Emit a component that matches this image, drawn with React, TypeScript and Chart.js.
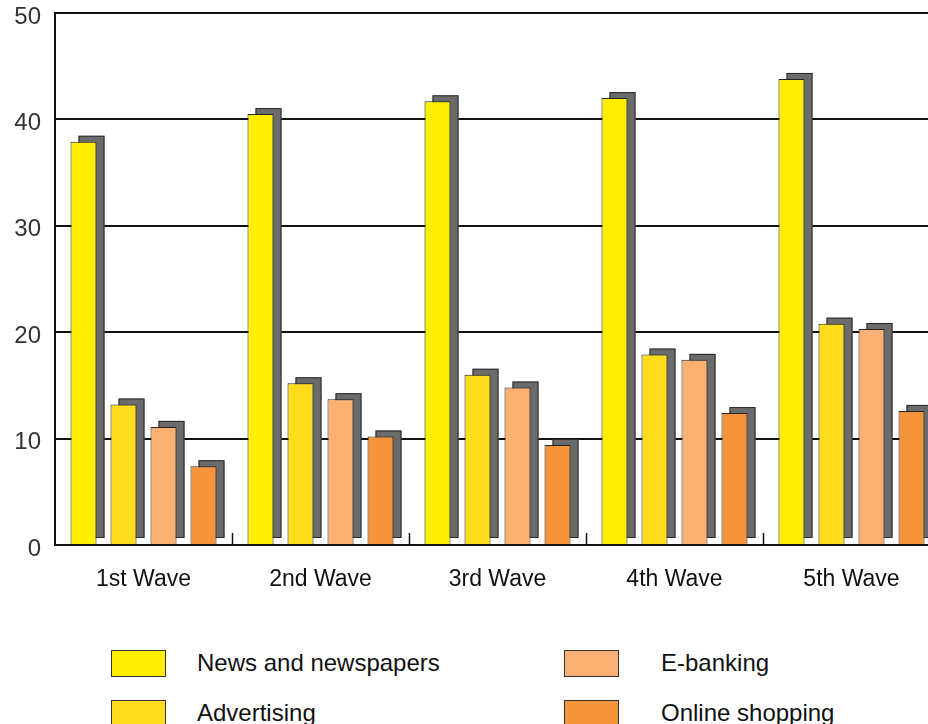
import React, { useEffect, useRef } from "react";
import { Chart, registerables } from "chart.js";

Chart.register(...registerables);

const categories = ["1st Wave", "2nd Wave", "3rd Wave", "4th Wave", "5th Wave"];
const seriesNames = ["News and newspapers", "Advertising", "E-banking", "Online shopping"];
const newsValues = [37.9, 40.5, 41.7, 42.0, 43.8];
const advertisingValues = [13.2, 15.2, 16.0, 17.9, 20.8];
const ebankingValues = [11.1, 13.7, 14.8, 17.4, 20.3];
const onlineValues = [7.4, 10.2, 9.4, 12.4, 12.6];
const seriesColors = ["#FFEE00", "#FFDD1C", "#FAB072", "#F5943A"];
const yTicks = [0, 10, 20, 30, 40, 50];

const SHADOW = "#6B6B6B";
const FONT = "'Liberation Sans', Arial, sans-serif";

const shadowPlugin = {
  id: "barShadow",
  beforeDatasetsDraw(chart: any) {
    const ctx = chart.ctx;
    ctx.save();
    chart.data.datasets.forEach((_ds: any, i: number) => {
      const meta = chart.getDatasetMeta(i);
      meta.data.forEach((bar: any) => {
        const p = bar.getProps(["x", "y", "base", "width"], true);
        const left = p.x - p.width / 2 + 8;
        const top = p.y - 6;
        const h = p.base - p.y;
        ctx.fillStyle = SHADOW;
        ctx.fillRect(left, top, p.width, h);
        ctx.strokeStyle = "#2a2a2a";
        ctx.lineWidth = 1;
        ctx.strokeRect(left + 0.5, top + 0.5, p.width - 1, h - 1);
      });
    });
    ctx.restore();
  },
};

const innerTickPlugin = {
  id: "innerTicks",
  afterDatasetsDraw(chart: any) {
    const xs = chart.scales.x;
    const ctx = chart.ctx;
    const bottom = chart.chartArea.bottom;
    const step = xs.getPixelForValue(1) - xs.getPixelForValue(0);
    ctx.save();
    ctx.strokeStyle = "#111";
    ctx.lineWidth = 1.5;
    for (let i = 0; i < categories.length; i++) {
      const x = Math.round(xs.getPixelForValue(i) + step / 2) + 0.5;
      ctx.beginPath();
      ctx.moveTo(x, bottom);
      ctx.lineTo(x, bottom - 12);
      ctx.stroke();
    }
    ctx.restore();
  },
};

export default function App() {
  const ref = useRef<HTMLCanvasElement | null>(null);

  useEffect(() => {
    if (!ref.current) return;
    const values = [newsValues, advertisingValues, ebankingValues, onlineValues];
    const chart = new Chart(ref.current, {
      type: "bar",
      data: {
        labels: categories,
        datasets: seriesNames.map((name, i) => ({
          label: name,
          data: values[i],
          backgroundColor: seriesColors[i],
          borderColor: "#222",
          borderWidth: 1,
          categoryPercentage: 0.904,
          barPercentage: 0.65,
        })),
      },
      options: {
        responsive: false,
        animation: false,
        devicePixelRatio: 1,
        layout: { padding: { top: 13, left: 0, right: 0, bottom: 0 } },
        plugins: {
          legend: { display: false },
          tooltip: { enabled: false },
        },
        scales: {
          x: {
            grid: { display: false, drawTicks: false },
            border: { display: true, color: "#111", width: 2 },
            ticks: {
              color: "#111",
              font: { family: FONT, size: 23, lineHeight: 1.2 },
              padding: 21,
              maxRotation: 0,
            },
            afterFit(scale: any) {
              scale.height = 60;
              scale.paddingLeft = 0;
              scale.paddingRight = 0;
            },
          },
          y: {
            min: 0,
            max: 50,
            afterBuildTicks(scale: any) {
              scale.ticks = yTicks.map((v) => ({ value: v }));
            },
            grid: { color: "#111", lineWidth: 2, drawTicks: false },
            border: { display: true, color: "#111", width: 2 },
            ticks: {
              color: "#333",
              font: { family: FONT, size: 24, lineHeight: 1 },
              padding: 14,
              labelOffset: 4,
            },
            afterFit(scale: any) {
              scale.width = 55;
              scale.paddingTop = 0;
              scale.paddingBottom = 0;
            },
          },
        },
      },
      plugins: [shadowPlugin, innerTickPlugin],
    });
    return () => chart.destroy();
  }, []);

  const legendItems = seriesNames.map((name, i) => ({
    name,
    color: seriesColors[i],
    col: Math.floor(i / 2),
    row: i % 2,
  }));
  const boxLeft = [111, 564];
  const textLeft = [197, 661];
  const rowTop = [650, 700];

  return (
    <div
      style={{
        position: "fixed",
        left: 0,
        top: 0,
        width: 928,
        height: 724,
        overflow: "hidden",
        background: "#fff",
      }}
    >
      <canvas
        ref={ref}
        width={940}
        height={605}
        style={{ position: "absolute", left: 0, top: 0, width: 940, height: 605 }}
      />
      {legendItems.map((it) => (
        <React.Fragment key={it.name}>
          <div
            style={{
              position: "absolute",
              left: boxLeft[it.col],
              top: rowTop[it.row],
              width: 55,
              height: 27,
              boxSizing: "border-box",
              background: it.color,
              border: "1px solid #333",
            }}
          />
          <div
            style={{
              position: "absolute",
              left: textLeft[it.col],
              top: rowTop[it.row] - 2,
              height: 30,
              lineHeight: "30px",
              fontFamily: FONT,
              fontSize: 24,
              color: "#111",
              whiteSpace: "nowrap",
            }}
          >
            {it.name}
          </div>
        </React.Fragment>
      ))}
    </div>
  );
}
